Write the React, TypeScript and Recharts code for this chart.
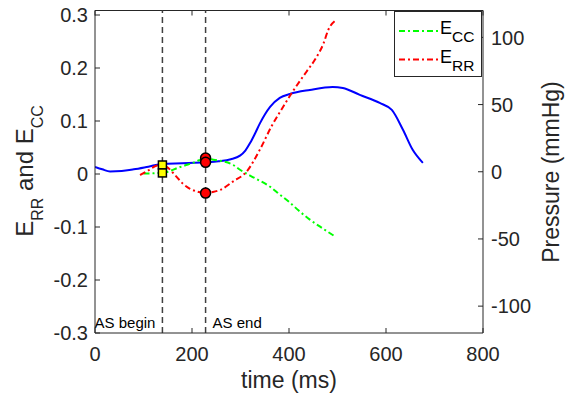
import {
  ComposedChart,
  Line,
  Scatter,
  XAxis,
  YAxis,
  ReferenceLine,
  Legend,
} from "recharts";

const AX = "#262626";
const FONT = "'Liberation Sans', Arial, Helvetica, sans-serif";
const PLOT_TOP = 10.5;

const timeTicks = [0, 200, 400, 600, 800];
const strainTicks = [-0.3, -0.2, -0.1, 0, 0.1, 0.2, 0.3];
const pressureTicks = [-100, -50, 0, 50, 100];

const asBegin = 139;
const asEnd = 228;

// pressure (mmHg)
const pressureTime = [0, 15, 31, 55, 80, 110, 139, 180, 228, 255, 280, 299, 310, 320, 330, 340, 361, 381, 402, 443, 490, 511, 546, 587, 612, 635, 655, 676];
const pressureValue = [3.6, 1.8, 0.2, 0.5, 1.8, 3.8, 5.8, 6.3, 7.0, 7.8, 9.3, 12.0, 15.8, 21.5, 28.5, 36.0, 48.3, 55, 57.9, 60.9, 63.1, 62.4, 57.2, 51.2, 46, 31.2, 16.3, 6.6];

// E_CC
const eccTime = [100, 115, 128, 139, 155, 169, 185, 202, 215, 228, 244, 258, 285, 299, 330, 361, 380, 402, 420, 443, 470, 495];
const eccValue = [0.001, 0.001, 0.002, 0.002, 0.006, 0.011, 0.016, 0.021, 0.026, 0.029, 0.027, 0.025, 0.017, 0.008, -0.008, -0.024, -0.038, -0.054, -0.069, -0.086, -0.103, -0.118];

// E_RR
const errTime = [93, 110, 128, 139, 150, 165, 182, 196, 210, 228, 243, 258, 285, 313, 340, 364, 388, 405, 436, 453, 471, 481, 498];
const errValue = [-0.002, 0.007, 0.016, 0.017, 0.012, -0.002, -0.019, -0.028, -0.033, -0.036, -0.034, -0.03, -0.014, 0.005, 0.046, 0.09, 0.127, 0.152, 0.193, 0.215, 0.246, 0.272, 0.291];

// markers
const beginMarkers = [0.017, 0.002];
const endMarkers = [0.03, 0.022, -0.036];

const toPoints = (t: number[], v: number[]) => t.map((x, i) => ({ t: x, v: v[i] }));

const pressureData = toPoints(pressureTime, pressureValue);
const eccData = toPoints(eccTime, eccValue);
const errData = toPoints(errTime, errValue);
const squareData = beginMarkers.map((v) => ({ t: asBegin, v }));
const circleData = endMarkers.map((v) => ({ t: asEnd, v }));

const LeftTick = (props: any) => {
  const { x, y, payload } = props;
  return (
    <g>
      <text x={x} y={y} dy="0.36em" textAnchor="end" fontSize={20} fontFamily={FONT} fill={AX}>
        {String(payload.value)}
      </text>
      <line x1={x + 7} x2={x + 12} y1={y} y2={y} stroke={AX} />
    </g>
  );
};

const RightTick = (props: any) => {
  const { x, y, payload } = props;
  return (
    <g>
      <text x={x} y={y} dy="0.36em" textAnchor="start" fontSize={20} fontFamily={FONT} fill={AX}>
        {String(payload.value)}
      </text>
      <line x1={x - 8} x2={x - 13} y1={y} y2={y} stroke={AX} />
    </g>
  );
};

const TimeTick = (props: any) => {
  const { x, y, payload } = props;
  return (
    <g>
      <text x={x} y={y + 27.5} textAnchor="middle" fontSize={20} fontFamily={FONT} fill={AX}>
        {String(payload.value)}
      </text>
      <line x1={x} x2={x} y1={y} y2={y - 5} stroke={AX} />
      <line x1={x} x2={x} y1={PLOT_TOP} y2={PLOT_TOP + 5} stroke={AX} />
    </g>
  );
};

const TimeLabel = () => (
  <text x={289} y={388} textAnchor="middle" fontSize={23} fontFamily={FONT} fill={AX}>
    time (ms)
  </text>
);

const StrainLabel = () => (
  <text
    x={33}
    y={171}
    transform="rotate(-90 33 171)"
    textAnchor="middle"
    fontSize={24}
    fontFamily={FONT}
    fill={AX}
  >
    <tspan>E</tspan>
    <tspan dy={10} fontSize={16}>RR</tspan>
    <tspan dy={-10}> and E</tspan>
    <tspan dy={10} fontSize={16}>CC</tspan>
  </text>
);

const PressureLabel = () => (
  <text
    x={559}
    y={172}
    transform="rotate(-90 559 172)"
    textAnchor="middle"
    fontSize={23}
    fontFamily={FONT}
    fill={AX}
  >
    Pressure (mmHg)
  </text>
);

const EventLabel = (props: any) => {
  const { viewBox, text, side } = props;
  const x = viewBox ? viewBox.x : 0;
  return (
    <text
      x={side === "left" ? x - 7 : x + 7}
      y={328.3}
      textAnchor={side === "left" ? "end" : "start"}
      fontSize={15}
      fontFamily={FONT}
      fill="#000"
    >
      {text}
    </text>
  );
};

const Square = (props: any) => {
  const { cx, cy } = props;
  return <rect x={cx - 4} y={cy - 4} width={8} height={8} fill="#ffff00" stroke="#000" strokeWidth={1.5} />;
};

const Dot = (props: any) => {
  const { cx, cy } = props;
  return <circle cx={cx} cy={cy} r={5} fill="#ff0000" stroke="#000" strokeWidth={1.5} />;
};

const LegendBox = () => (
  <svg width={88} height={67} style={{ display: "block" }}>
    <rect x={0.5} y={0.5} width={87} height={65} fill="#fff" stroke={AX} />
    <line x1={5} x2={44} y1={20} y2={20} stroke="#00ff00" strokeWidth={2} strokeDasharray="6 3 2 3" />
    <text x={46} y={23.4} fontSize={18} fontFamily={FONT} fill="#000">
      <tspan>E</tspan>
      <tspan dy={8} fontSize={15.5}>CC</tspan>
    </text>
    <line x1={5} x2={44} y1={48.4} y2={48.4} stroke="#ff0000" strokeWidth={2} strokeDasharray="6 3 2 3" />
    <text x={46} y={51.7} fontSize={18} fontFamily={FONT} fill="#000">
      <tspan>E</tspan>
      <tspan dy={8} fontSize={15.5}>RR</tspan>
    </text>
  </svg>
);

export default function App() {
  return (
    <div style={{ position: "absolute", left: 0, top: 0, background: "#fff" }}>
      <ComposedChart width={574} height={399} margin={{ top: PLOT_TOP, right: 0, bottom: 0, left: 0 }}>
        <XAxis
          xAxisId="x"
          dataKey="t"
          type="number"
          domain={[0, 800]}
          ticks={timeTicks}
          interval={0}
          height={66}
          tickSize={0}
          tickMargin={0}
          tickLine={false}
          axisLine={{ stroke: AX }}
          tick={<TimeTick />}
          label={<TimeLabel />}
          allowDataOverflow
        />
        <YAxis
          yAxisId="left"
          type="number"
          domain={[-0.3, 0.3085]}
          ticks={strainTicks}
          interval={0}
          width={95}
          tickSize={0}
          tickMargin={7}
          tickLine={false}
          axisLine={{ stroke: AX }}
          tick={<LeftTick />}
          label={<StrainLabel />}
          allowDataOverflow
        />
        <YAxis
          yAxisId="right"
          orientation="right"
          type="number"
          domain={[-120, 120]}
          ticks={pressureTicks}
          interval={0}
          width={91}
          tickSize={0}
          tickMargin={8}
          tickLine={false}
          axisLine={{ stroke: AX }}
          tick={<RightTick />}
          label={<PressureLabel />}
          allowDataOverflow
        />
        <ReferenceLine xAxisId="x" yAxisId="right" y={120} stroke={AX} />
        <ReferenceLine
          xAxisId="x"
          yAxisId="left"
          x={asBegin}
          stroke="#404040"
          strokeWidth={1.5}
          strokeDasharray="6 4"
          label={<EventLabel text="AS begin" side="left" />}
        />
        <ReferenceLine
          xAxisId="x"
          yAxisId="left"
          x={asEnd}
          stroke="#404040"
          strokeWidth={1.5}
          strokeDasharray="6 4"
          label={<EventLabel text="AS end" side="right" />}
        />
        <Line
          xAxisId="x"
          yAxisId="right"
          data={pressureData}
          dataKey="v"
          type="monotone"
          stroke="#0000ff"
          strokeWidth={2}
          dot={false}
          legendType="none"
          isAnimationActive={false}
        />
        <Line
          xAxisId="x"
          yAxisId="left"
          data={eccData}
          dataKey="v"
          name="ECC"
          type="monotone"
          stroke="#00ff00"
          strokeWidth={2}
          strokeDasharray="6 3 2 3"
          dot={false}
          isAnimationActive={false}
        />
        <Line
          xAxisId="x"
          yAxisId="left"
          data={errData}
          dataKey="v"
          name="ERR"
          type="monotone"
          stroke="#ff0000"
          strokeWidth={2}
          strokeDasharray="6 3 2 3"
          dot={false}
          isAnimationActive={false}
        />
        <Scatter
          xAxisId="x"
          yAxisId="left"
          data={squareData}
          dataKey="v"
          shape={<Square />}
          legendType="none"
          isAnimationActive={false}
        />
        <Scatter
          xAxisId="x"
          yAxisId="left"
          data={circleData}
          dataKey="v"
          shape={<Dot />}
          legendType="none"
          isAnimationActive={false}
        />
        <Legend
          layout="horizontal"
          verticalAlign="middle"
          align="center"
          wrapperStyle={{ left: 394, top: 11, width: 88, height: 67 }}
          content={() => <LegendBox />}
        />
      </ComposedChart>
    </div>
  );
}
